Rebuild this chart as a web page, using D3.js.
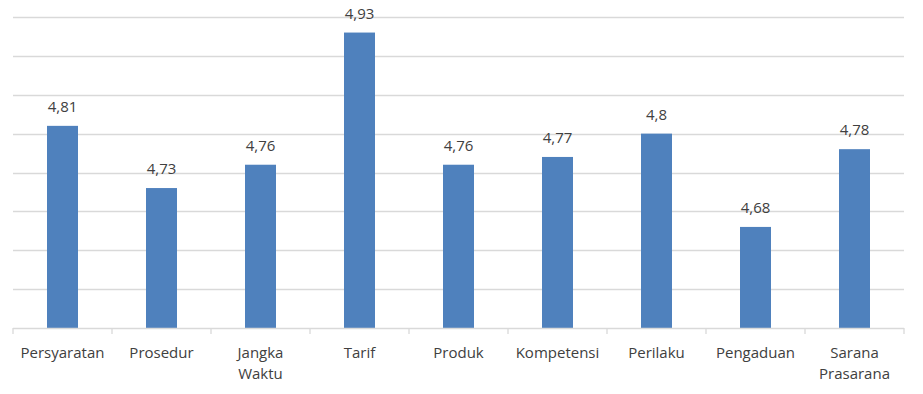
<!DOCTYPE html>
<html><head><meta charset="utf-8">
<script src="https://cdn.jsdelivr.net/npm/d3@7"></script>
<style>body{margin:0;background:#fff}svg{display:block}text{font-family:"Open Sans",sans-serif}</style>
</head><body><svg id="c" width="923" height="394"></svg>
<script>
const categories = ["Persyaratan","Prosedur","Jangka Waktu","Tarif","Produk","Kompetensi","Perilaku","Pengaduan","Sarana Prasarana"];
const values = [4.81,4.73,4.76,4.93,4.76,4.77,4.8,4.68,4.78];
const valueLabels = ["4,81","4,73","4,76","4,93","4,76","4,77","4,8","4,68","4,78"];
const gridTicks = [4.55,4.60,4.65,4.70,4.75,4.80,4.85,4.90,4.95];

const svg = d3.select("#c");
const xOuter = d3.scaleBand().domain(categories).range([13,904]);
const y = d3.scaleLinear().domain([4.55,4.95]).range([328,17]);

svg.append("g").selectAll("line").data(gridTicks.slice(1)).join("line")
  .attr("x1",13).attr("x2",904).attr("y1",d=>Math.round(y(d))+0.5).attr("y2",d=>Math.round(y(d))+0.5)
  .attr("stroke","#d9d9d9").attr("stroke-width",1.3);

svg.append("g").selectAll("rect").data(values).join("rect")
  .attr("x",(d,i)=>xOuter(categories[i])+xOuter.bandwidth()/2-15.5)
  .attr("width",31)
  .attr("y",d=>y(d)).attr("height",d=>y(4.55)-y(d))
  .attr("fill","#4f81bd");

const ax = svg.append("g");
ax.append("line").attr("x1",13).attr("x2",904).attr("y1",328.5).attr("y2",328.5).attr("stroke","#d9d9d9").attr("stroke-width",1.3);
const tickPos = categories.map(c=>xOuter(c)).concat([904]);
ax.selectAll("line.t").data(tickPos).join("line").attr("class","t")
  .attr("x1",d=>d).attr("x2",d=>d).attr("y1",328).attr("y2",334).attr("stroke","#d9d9d9").attr("stroke-width",1.3);

svg.append("g").selectAll("text").data(values).join("text")
  .attr("x",(d,i)=>xOuter(categories[i])+xOuter.bandwidth()/2)
  .attr("y",d=>y(d)-14)
  .attr("text-anchor","middle").attr("font-size",15).attr("fill","#404040")
  .text((d,i)=>valueLabels[i]);

const lab = svg.append("g").selectAll("text").data(categories).join("text")
  .attr("x",c=>xOuter(c)+xOuter.bandwidth()/2)
  .attr("y",358)
  .attr("text-anchor","middle").attr("font-size",15).attr("fill","#404040");
lab.each(function(c){
  const words = c.split(" ");
  const t = d3.select(this);
  words.forEach((w,i)=>t.append("tspan").attr("x",t.attr("x")).attr("dy",i?21:0).text(w));
});
</script></body></html>
